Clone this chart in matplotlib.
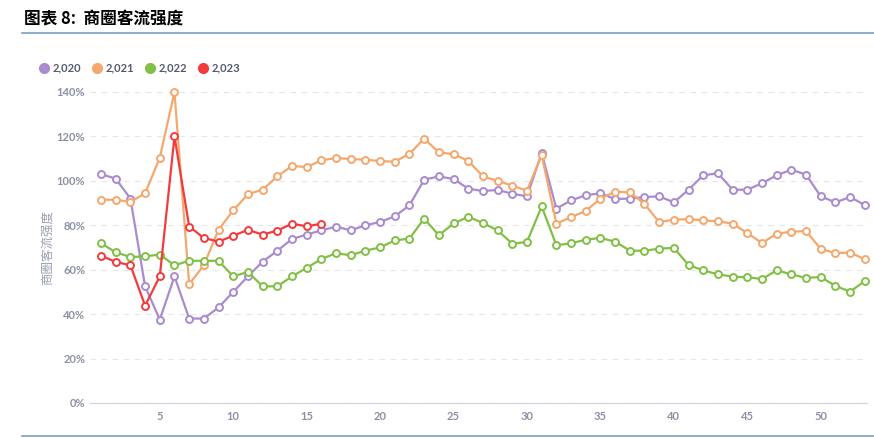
import matplotlib.pyplot as plt
from matplotlib.lines import Line2D
from matplotlib.ticker import FuncFormatter

plt.rcParams['font.family'] = ['Lato', 'Noto Sans CJK SC', 'DejaVu Sans']

# week numbers 1..53
weeks = list(range(1, 54))

# 商圈客流强度 (%)
y2020 = [103, 101, 92, 52.5, 37.5, 57, 38, 38, 43, 50, 57, 63.6, 68.5,
         73.8, 75.8, 77.7, 79.4, 77.7, 80, 81.5, 84, 89, 100.5, 102, 100.8,
         96.5, 95.4, 95.9, 94.2, 93, 112.5, 87.5, 91.2, 93.5, 94.4, 91.8, 92,
         92.7, 93, 90.3, 96, 102.5, 103.4, 96, 96, 98.9, 102.5, 105, 102.8,
         93, 90.3, 92.7, 89.1]
y2021 = [91.5, 91.5, 90.5, 94.4, 110.4, 140, 53.5, 62, 78, 86.7, 94, 96, 102,
         106.7, 106.2, 109.2, 110.3, 109.8, 109.5, 108.9, 108.6, 112.2, 119,
         112.8, 112, 109, 102, 100, 97.8, 95.6, 111.6, 80.7, 83.7, 86.4, 92,
         95.1, 94.8, 89.6, 81.4, 82.5, 82.8, 82.2, 81.8, 80.7, 76.5, 72, 76.2,
         77.1, 77.4, 69.3, 67.5, 67.7, 64.7]
y2022 = [71.9, 67.8, 65.7, 66, 66.8, 62, 64, 64, 64, 57, 59, 52.5, 52.5,
         57, 60.8, 64.8, 67.4, 66.5, 68.6, 70, 73.2, 74, 83, 75.5, 80.8, 83.8,
         81, 77.7, 71.7, 72.5, 88.5, 71, 71.9, 73.5, 74.3, 72.6, 68.6, 68.5,
         69.5, 69.8, 62.1, 59.7, 57.9, 56.9, 56.6, 55.8, 59.7, 57.9, 56.3,
         56.7, 52.7, 50.1, 54.9]
y2023 = [66.3, 63.5, 62, 43.8, 57, 120, 79.4, 74.3, 72.6, 75.3, 77.9, 75.8,
         77.6, 80.7, 79.5, 80.7]

series_names = ['2,020', '2,021', '2,022', '2,023']
series_values = [y2020, y2021, y2022, y2023]
colors = ['#a98bcf', '#f4a86e', '#82bf46', '#f23b3b']

fig = plt.figure(figsize=(8.74, 4.38), dpi=100)
ax = fig.add_axes([0.103, 0.08, 0.889, 0.71])

for name, vals, c in zip(series_names, series_values, colors):
    ax.plot(weeks[:len(vals)], vals, color=c, lw=1.6, marker='o', ms=5,
            mfc='white', mec=c, mew=1.4, clip_on=False, zorder=3)

ax.set_xlim(0.25, 53.15)
ax.set_ylim(0, 140)
ax.set_xticks([5, 10, 15, 20, 25, 30, 35, 40, 45, 50])
ax.set_yticks(range(0, 141, 20))
ax.yaxis.set_major_formatter(FuncFormatter(lambda v, p: f'{int(v)}%'))
ax.grid(axis='y', ls=(0, (5, 5)), color='#e6e6ea', lw=0.8)
ax.set_axisbelow(True)
for s in ['top', 'right', 'left']:
    ax.spines[s].set_visible(False)
ax.spines['bottom'].set_color('#cfd2da')
ax.tick_params(axis='both', length=0, colors='#8c90a3', labelsize=8)
ax.tick_params(axis='x', pad=6)
for lab in ax.get_xticklabels() + ax.get_yticklabels():
    lab.set_fontweight('bold')
ax.set_ylabel('商圈客流强度', color='#9a9eb0', fontsize=9,
              family=['Noto Sans CJK SC', 'DejaVu Sans'], labelpad=2)

# legend
handles = [Line2D([], [], ls='none', marker='o', ms=7, color=c) for c in colors]
leg = fig.legend(handles, series_names, loc='center left',
                 bbox_to_anchor=(0.033, 0.845), ncol=4, frameon=False,
                 handlelength=0.9, handletextpad=0.35, columnspacing=0.95,
                 fontsize=8)
for t in leg.get_texts():
    t.set_color('#555a6e')
    t.set_fontweight('bold')

# title and rules
fig.text(0.027, 0.955, '图表 8:  商圈客流强度', fontsize=12, fontweight='bold',
         style='italic', family=['Noto Sans CJK SC', 'DejaVu Sans'],
         va='center', ha='left')
fig.add_artist(Line2D([0.025, 1.0], [0.925, 0.925], color='#7aa0bf', lw=1.2))
fig.add_artist(Line2D([0.025, 1.0], [0.004, 0.004], color='#7aa0bf', lw=1.2))

fig.savefig('out.png', dpi=100)
